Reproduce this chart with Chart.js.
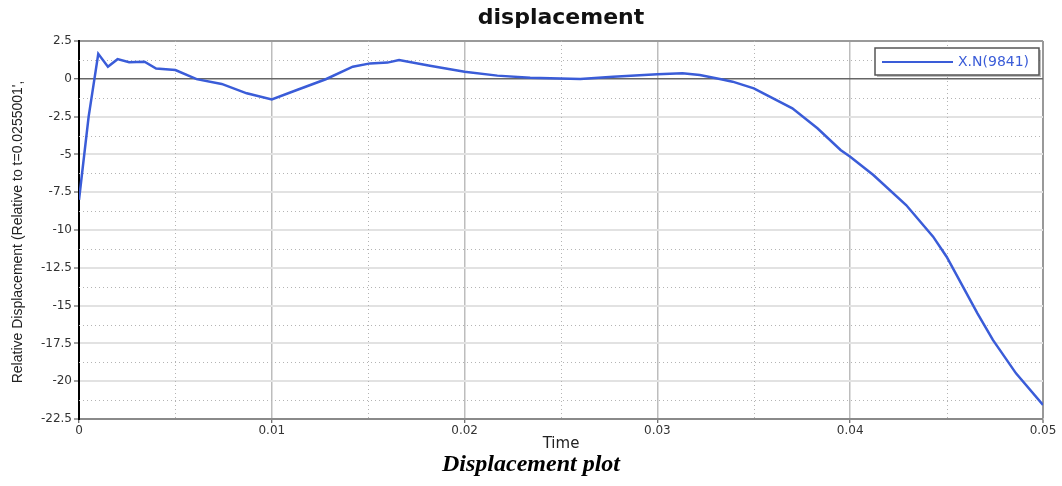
<!DOCTYPE html>
<html>
<head>
<meta charset="utf-8">
<script src="https://cdn.jsdelivr.net/npm/chart.js@4.4.1/dist/chart.umd.min.js"></script>
<style>
  html, body { margin: 0; padding: 0; background: #fff; }
  #wrap { position: relative; width: 1062px; height: 486px; }
</style>
</head>
<body>
<div id="wrap"><canvas id="c"></canvas></div>
<script>
const chartTitle = 'displacement';
const captionText = 'Displacement plot';
const xAxisTitle = 'Time';
const yAxisTitle = "Relative Displacement (Relative to t=0.0255001', ";
const seriesLabel = 'X.N(9841)';

const times = [0, 0.0005, 0.001, 0.0015, 0.002, 0.0026, 0.0034, 0.004, 0.005, 0.0061,
  0.0074, 0.0087, 0.0100, 0.0113, 0.0128, 0.0142, 0.0151, 0.0160, 0.0166, 0.0182,
  0.0200, 0.0217, 0.0234, 0.0260, 0.0277, 0.0300, 0.0313, 0.0322, 0.0333, 0.0339,
  0.0350, 0.0370, 0.0383, 0.0395, 0.0400, 0.0412, 0.0429, 0.0443, 0.0450, 0.0466,
  0.0474, 0.0486, 0.0500];
const disp = [-8.0, -2.5, 1.65, 0.8, 1.3, 1.09, 1.13, 0.68, 0.58, -0.02,
  -0.34, -0.96, -1.36, -0.74, -0.03, 0.80, 1.02, 1.07, 1.24, 0.87,
  0.47, 0.21, 0.07, -0.01, 0.14, 0.30, 0.36, 0.25, -0.03, -0.19,
  -0.63, -1.95, -3.27, -4.71, -5.15, -6.36, -8.35, -10.44, -11.77, -15.51,
  -17.27, -19.48, -21.57];

const xMinorTicks = [0.005, 0.015, 0.025, 0.035, 0.045];
const yMinorTicks = [1.25, -1.25, -3.75, -6.25, -8.75, -11.25, -13.75, -16.25, -18.75, -21.25];

const lineColor = '#3a5cd8';

const minorGrid = {
  id: 'minorGrid',
  beforeDatasetsDraw(chart) {
    const {ctx, chartArea: a, scales: {x, y}} = chart;
    ctx.save();
    ctx.strokeStyle = '#b4b4b4';
    ctx.lineWidth = 1;
    ctx.setLineDash([1, 3]);
    xMinorTicks.forEach(v => {
      const px = Math.round(x.getPixelForValue(v)) + 0.5;
      ctx.beginPath(); ctx.moveTo(px, a.top); ctx.lineTo(px, a.bottom); ctx.stroke();
    });
    yMinorTicks.forEach(v => {
      const py = Math.round(y.getPixelForValue(v)) + 0.5;
      ctx.beginPath(); ctx.moveTo(a.left, py); ctx.lineTo(a.right, py); ctx.stroke();
    });
    ctx.restore();
  }
};

const boxLegend = {
  id: 'boxLegend',
  afterDatasetsDraw(chart) {
    const {ctx, chartArea: a} = chart;
    const ds = chart.data.datasets[0];
    const w = 164, h = 27;
    const x0 = a.right - 4 - w, y0 = a.top + 7;
    ctx.save();
    ctx.fillStyle = 'rgba(0,0,0,0.25)';
    ctx.fillRect(x0 + 2, y0 + 2, w, h);
    ctx.fillStyle = '#fff';
    ctx.fillRect(x0, y0, w, h);
    ctx.strokeStyle = '#555';
    ctx.lineWidth = 1.5;
    ctx.strokeRect(x0, y0, w, h);
    ctx.strokeStyle = ds.borderColor;
    ctx.lineWidth = 2;
    ctx.beginPath();
    ctx.moveTo(x0 + 7, y0 + 14);
    ctx.lineTo(x0 + 78, y0 + 14);
    ctx.stroke();
    ctx.fillStyle = ds.borderColor;
    ctx.font = '14px "DejaVu Sans"';
    ctx.textBaseline = 'middle';
    ctx.textAlign = 'left';
    ctx.fillText(ds.label, x0 + 83, y0 + 14);
    ctx.restore();
  }
};

new Chart(document.getElementById('c'), {
  type: 'line',
  data: {
    datasets: [{
      label: seriesLabel,
      data: times.map((t, i) => ({x: t, y: disp[i]})),
      borderColor: lineColor,
      backgroundColor: lineColor,
      borderWidth: 2.5,
      pointRadius: 0,
      tension: 0,
      fill: false
    }]
  },
  options: {
    responsive: true,
    maintainAspectRatio: false,
    animation: false,
    layout: { padding: 0 },
    plugins: {
      legend: { display: false },
      tooltip: { enabled: false },
      title: {
        display: true,
        text: chartTitle,
        fullSize: false,
        color: '#111',
        font: { family: '"DejaVu Sans"', size: 22, weight: 'bold', lineHeight: 1.2 },
        padding: { top: 5.2, bottom: 9.4 }
      },
      subtitle: {
        display: true,
        position: 'bottom',
        text: captionText,
        fullSize: true,
        color: '#000',
        font: { family: '"Liberation Serif"', size: 24, weight: 'bold', style: 'italic', lineHeight: 1.0 },
        padding: { top: 0, bottom: 9.1 }
      }
    },
    scales: {
      x: {
        type: 'linear',
        min: 0,
        max: 0.05,
        afterFit: s => { s.height = 33.9; },
        ticks: {
          stepSize: 0.01,
          padding: 1,
          color: '#333',
          font: { family: '"DejaVu Sans"', size: 12 },
          maxRotation: 0,
          callback: v => (Math.abs(v) < 1e-9 ? '0' : String(+v.toFixed(2)))
        },
        grid: {
          color: c => (c.tick && Math.abs(c.tick.value - 0.05) < 1e-9 ? '#999' : '#bdbdbd'),
          lineWidth: c => (c.tick && Math.abs(c.tick.value - 0.05) < 1e-9 ? 2 : 1.5),
          tickLength: 4,
          tickColor: '#444',
          tickWidth: 1
        },
        border: { display: true, color: '#8a8a8a', width: 2 },
        title: {
          display: true,
          text: xAxisTitle,
          color: '#222',
          font: { family: '"DejaVu Sans"', size: 15, lineHeight: 1.2 },
          padding: { top: 0, bottom: 0.1 }
        }
      },
      y: {
        type: 'linear',
        min: -22.5,
        max: 2.5,
        afterFit: s => { s.width = 79; },
        ticks: {
          stepSize: 2.5,
          padding: 2,
          color: '#333',
          font: { family: '"DejaVu Sans"', size: 12 }
        },
        grid: {
          color: c => {
            if (!c.tick) return '#e0e0e0';
            if (Math.abs(c.tick.value) < 1e-9) return '#666';
            if (Math.abs(c.tick.value - 2.5) < 1e-9) return '#9a9a9a';
            return '#e2e2e2';
          },
          lineWidth: c => (c.tick && Math.abs(c.tick.value) < 1e-9 ? 1.5 : 2),
          tickLength: 5,
          tickColor: '#444',
          tickWidth: 1
        },
        border: { display: true, color: '#000', width: 2 },
        title: {
          display: true,
          text: yAxisTitle,
          color: '#222',
          font: { family: '"Liberation Sans"', size: 14, lineHeight: 1.2 },
          padding: { top: 10, bottom: 0 }
        }
      },
      yRight: {
        type: 'linear',
        position: 'right',
        display: true,
        afterFit: s => { s.width = 19; },
        ticks: { display: false },
        grid: { display: false, drawTicks: false },
        border: { display: false }
      }
    }
  },
  plugins: [minorGrid, boxLegend]
});
</script>
</body>
</html>
